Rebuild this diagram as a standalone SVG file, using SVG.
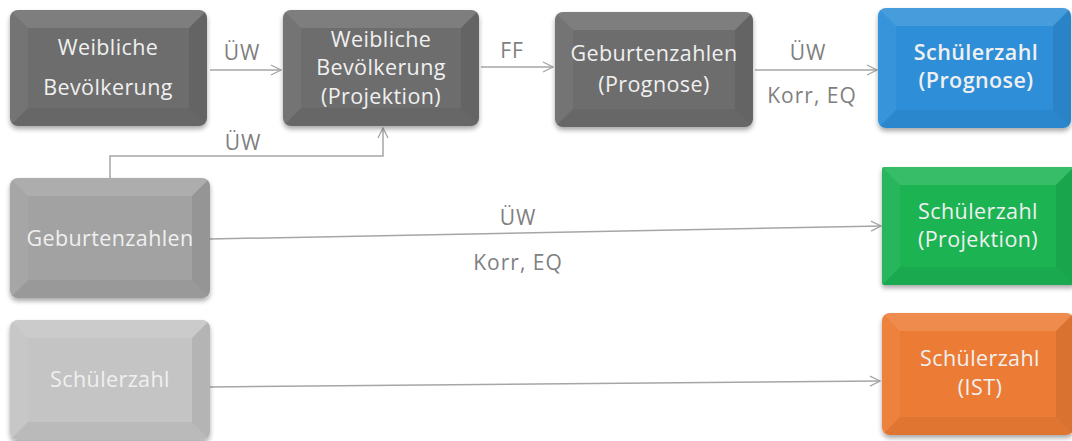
<svg xmlns="http://www.w3.org/2000/svg" width="1072" height="441" viewBox="0 0 1072 441">
<style>
.t{font-family:"Open Sans","Noto Sans","Liberation Sans",sans-serif;font-size:21.5px;letter-spacing:0.4px;text-anchor:middle;fill:#f0f0f0}
.b{font-weight:600}
.lbl{font-family:"Open Sans","Noto Sans","Liberation Sans",sans-serif;font-size:21px;letter-spacing:1px;text-anchor:middle;fill:#7f7f7f}
.c{fill:none;stroke:#a6a6a6;stroke-width:1.5;marker-end:url(#ah)}
.hl{fill:#fff;opacity:.12}
.hs{fill:#fff;opacity:.05}
.sd{fill:#000;opacity:.08}
.sb{fill:#000;opacity:.05}
</style>
<defs>
<marker id="ah" viewBox="0 0 12 12" refX="11" refY="6" markerWidth="12" markerHeight="12" markerUnits="userSpaceOnUse" orient="auto">
<path d="M1,1 L11,6 L1,11" fill="none" stroke="#a6a6a6" stroke-width="1.3"/>
</marker>
<filter id="sh" x="-10%" y="-10%" width="120%" height="130%">
<feGaussianBlur in="SourceAlpha" stdDeviation="2.5"/>
<feOffset dx="0" dy="3"/>
<feComponentTransfer><feFuncA type="linear" slope="0.35"/></feComponentTransfer>
<feMerge><feMergeNode/><feMergeNode in="SourceGraphic"/></feMerge>
</filter>
<clipPath id="c1"><rect x="10" y="10" width="197" height="116" rx="8"/></clipPath>
<clipPath id="c2"><rect x="283" y="10" width="196" height="116" rx="8"/></clipPath>
<clipPath id="c3"><rect x="555" y="12" width="198" height="115" rx="8"/></clipPath>
<clipPath id="c4"><rect x="878" y="8" width="193" height="120" rx="8"/></clipPath>
<clipPath id="c5"><rect x="10" y="178" width="200" height="120" rx="8"/></clipPath>
<clipPath id="c6"><rect x="882" y="167" width="192" height="118" rx="2"/></clipPath>
<clipPath id="c7"><rect x="10" y="320" width="200" height="120" rx="8"/></clipPath>
<clipPath id="c8"><rect x="882" y="313" width="192" height="122" rx="8"/></clipPath>
</defs>
<rect width="1072" height="441" fill="#fff"/>

<g id="connectors">
<line class="c" x1="210" y1="70" x2="281" y2="70"/>
<line class="c" x1="481" y1="67" x2="553" y2="67"/>
<line class="c" x1="755" y1="70" x2="877" y2="70"/>
<polyline class="c" points="110,178 110,156 383,156 383,128"/>
<line class="c" x1="210" y1="239" x2="881" y2="226"/>
<line class="c" x1="210" y1="387" x2="880" y2="381"/>
<text class="lbl" x="242" y="60">ÜW</text>
<text class="lbl" x="512" y="58">FF</text>
<text class="lbl" x="808" y="60">ÜW</text>
<text class="lbl" x="812" y="103">Korr, EQ</text>
<text class="lbl" x="243" y="150">ÜW</text>
<text class="lbl" x="518" y="225">ÜW</text>
<text class="lbl" x="518" y="270">Korr, EQ</text>
</g>

<g id="n1">
<rect x="10" y="10" width="197" height="116" rx="8" fill="#6d6d6d" filter="url(#sh)"/>
<g clip-path="url(#c1)">
<polygon class="hl" points="10,10 207,10 189,28 28,28"/>
<polygon class="hs" points="10,10 28,28 28,108 10,126"/>
<polygon class="sd" points="207,10 207,126 189,108 189,28"/>
<polygon class="sb" points="10,126 207,126 189,108 28,108"/>
</g>
<text class="t" x="108" y="55">Weibliche</text>
<text class="t" x="108" y="95">Bevölkerung</text>
</g>

<g id="n2">
<rect x="283" y="10" width="196" height="116" rx="8" fill="#6d6d6d" filter="url(#sh)"/>
<g clip-path="url(#c2)">
<polygon class="hl" points="283,10 479,10 461,28 301,28"/>
<polygon class="hs" points="283,10 301,28 301,108 283,126"/>
<polygon class="sd" points="479,10 479,126 461,108 461,28"/>
<polygon class="sb" points="283,126 479,126 461,108 301,108"/>
</g>
<text class="t" x="381" y="47">Weibliche</text>
<text class="t" x="381" y="75">Bevölkerung</text>
<text class="t" x="381" y="104">(Projektion)</text>
</g>

<g id="n3">
<rect x="555" y="12" width="198" height="115" rx="8" fill="#6d6d6d" filter="url(#sh)"/>
<g clip-path="url(#c3)">
<polygon class="hl" points="555,12 753,12 735,30 573,30"/>
<polygon class="hs" points="555,12 573,30 573,109 555,127"/>
<polygon class="sd" points="753,12 753,127 735,109 735,30"/>
<polygon class="sb" points="555,127 753,127 735,109 573,109"/>
</g>
<text class="t" x="654" y="61">Geburtenzahlen</text>
<text class="t" x="654" y="92">(Prognose)</text>
</g>

<g id="n4">
<rect x="878" y="8" width="193" height="120" rx="8" fill="#2f8fd8" filter="url(#sh)"/>
<g clip-path="url(#c4)">
<polygon class="hl" points="878,8 1071,8 1053,26 896,26"/>
<polygon class="hs" points="878,8 896,26 896,110 878,128"/>
<polygon class="sd" points="1071,8 1071,128 1053,110 1053,26"/>
<polygon class="sb" points="878,128 1071,128 1053,110 896,110"/>
</g>
<text class="t b" x="976" y="60">Schülerzahl</text>
<text class="t b" x="976" y="88">(Prognose)</text>
</g>

<g id="n5">
<rect x="10" y="178" width="200" height="120" rx="8" fill="#a2a2a2" filter="url(#sh)"/>
<g clip-path="url(#c5)">
<polygon class="hl" points="10,178 210,178 192,196 28,196"/>
<polygon class="hs" points="10,178 28,196 28,280 10,298"/>
<polygon class="sd" points="210,178 210,298 192,280 192,196"/>
<polygon class="sb" points="10,298 210,298 192,280 28,280"/>
</g>
<text class="t" x="110" y="246">Geburtenzahlen</text>
</g>

<g id="n6">
<rect x="882" y="167" width="192" height="118" rx="2" fill="#1fb352" filter="url(#sh)"/>
<g clip-path="url(#c6)">
<polygon class="hl" points="882,167 1074,167 1056,185 900,185"/>
<polygon class="hs" points="882,167 900,185 900,267 882,285"/>
<polygon class="sd" points="1074,167 1074,285 1056,267 1056,185"/>
<polygon class="sb" points="882,285 1074,285 1056,267 900,267"/>
</g>
<text class="t" x="978" y="219">Schülerzahl</text>
<text class="t" x="978" y="247">(Projektion)</text>
</g>

<g id="n7">
<rect x="10" y="320" width="200" height="120" rx="8" fill="#c4c4c4" filter="url(#sh)"/>
<g clip-path="url(#c7)">
<polygon class="hl" points="10,320 210,320 192,338 28,338"/>
<polygon class="hs" points="10,320 28,338 28,422 10,440"/>
<polygon class="sd" points="210,320 210,440 192,422 192,338"/>
<polygon class="sb" points="10,440 210,440 192,422 28,422"/>
</g>
<text class="t" x="110" y="387">Schülerzahl</text>
</g>

<g id="n8">
<rect x="882" y="313" width="192" height="122" rx="8" fill="#ec7b35" filter="url(#sh)"/>
<g clip-path="url(#c8)">
<polygon class="hl" points="882,313 1074,313 1056,331 900,331"/>
<polygon class="hs" points="882,313 900,331 900,417 882,435"/>
<polygon class="sd" points="1074,313 1074,435 1056,417 1056,331"/>
<polygon class="sb" points="882,435 1074,435 1056,417 900,417"/>
</g>
<text class="t" x="980" y="366">Schülerzahl</text>
<text class="t" x="980" y="395">(IST)</text>
</g>
</svg>
